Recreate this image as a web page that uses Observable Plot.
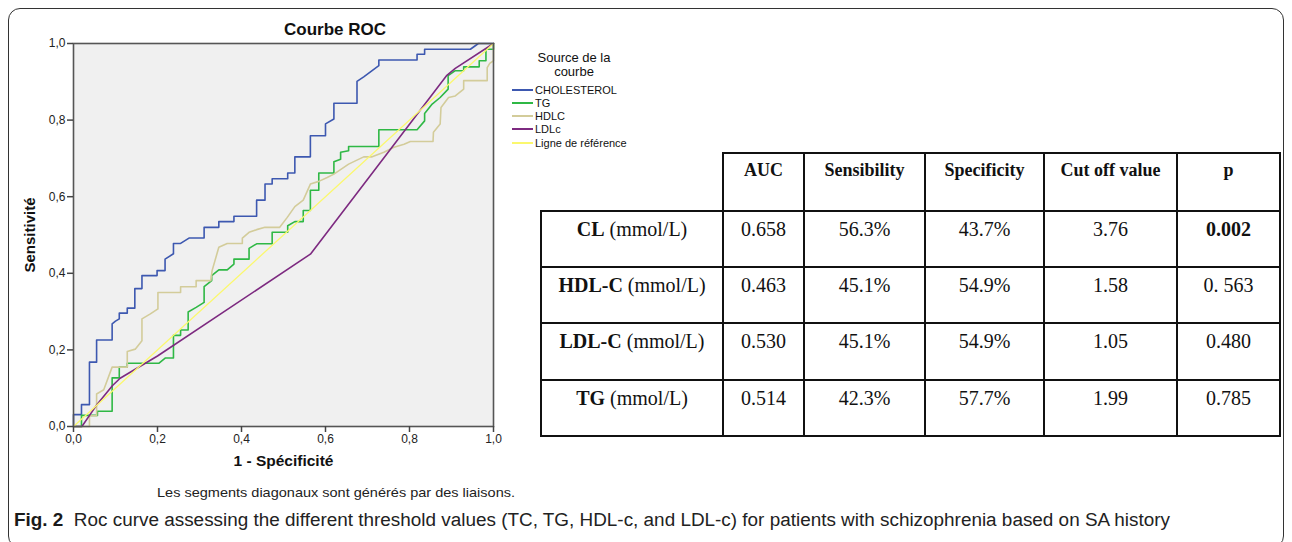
<!DOCTYPE html>
<html>
<head>
<meta charset="utf-8">
<script src="https://cdn.jsdelivr.net/npm/d3@7"></script>
<script src="https://cdn.jsdelivr.net/npm/@observablehq/plot@0.6"></script>
<style>
  html, body { margin: 0; padding: 0; background: #fff; }
  #page { position: relative; width: 1292px; height: 542px; overflow: hidden; font-family: "Liberation Sans", Arial, sans-serif; }
  #box { position: absolute; left: 8px; top: 8px; width: 1276px; height: 540px; border: 1px solid #333; border-radius: 12px; box-sizing: border-box; }
  #chart { position: absolute; left: 0; top: 0; }
  #title { position: absolute; left: 235px; width: 200px; top: 20px; text-align: center; font-weight: bold; font-size: 17px; color: #111; }
  #legend { position: absolute; left: 510px; top: 48px; color: #111; }
  #legend .head { position: absolute; left: 4px; width: 120px; text-align: center; font-size: 13px; line-height: 13px; height: 13px; }
  #legend .item { position: absolute; left: 2px; height: 13px; font-size: 11px; line-height: 13px; white-space: nowrap; }
  #legend .item span.sw { display: inline-block; width: 21px; height: 0; border-top: 2px solid; vertical-align: middle; margin-right: 2px; position: relative; top: -1px; }
  #foot { position: absolute; left: 157px; top: 485px; font-size: 13px; color: #222; white-space: nowrap; transform-origin: left top; }
  #caption { position: absolute; left: 14px; top: 510px; font-size: 18px; color: #222; white-space: nowrap; transform-origin: left top; }
  #caption b { color: #1a1a1a; }
  table { position: absolute; left: 540px; top: 152px; border-collapse: collapse; font-family: "Liberation Serif", "Times New Roman", serif; color: #111; }
  td, th { border: 2px solid #111; text-align: center; vertical-align: top; padding: 6px 2px 0 2px; box-sizing: border-box; }
  th { font-size: 18px; font-weight: bold; }
  td { font-size: 20px; }
  th.blank { border-top: none; border-left: none; }
</style>
</head>
<body>
<div id="page">
  <div id="box"></div>
  <div id="chart"></div>
  <div id="title">Courbe ROC</div>
  <div id="legend"></div>
  <div id="foot">Les segments diagonaux sont générés par des liaisons.</div>
  <div id="caption"><b>Fig. 2</b>&nbsp; Roc curve assessing the different threshold values (TC, TG, HDL-c, and LDL-c) for patients with schizophrenia based on SA history</div>
</div>
<script>
// ---------- ROC curve data (1 - specificity, sensitivity) ----------
const cholesterol = [[0,0],[0,0.031],[0.019,0.031],[0.019,0.057],[0.038,0.057],[0.038,0.168],[0.055,0.168],[0.055,0.226],[0.092,0.226],[0.092,0.268],[0.100,0.275],[0.109,0.281],[0.109,0.296],[0.128,0.296],[0.128,0.309],[0.146,0.309],[0.146,0.36],[0.163,0.36],[0.163,0.394],[0.199,0.394],[0.199,0.407],[0.218,0.407],[0.218,0.437],[0.238,0.451],[0.238,0.478],[0.255,0.478],[0.275,0.492],[0.311,0.492],[0.311,0.520],[0.346,0.520],[0.346,0.535],[0.382,0.535],[0.382,0.549],[0.436,0.549],[0.436,0.591],[0.456,0.591],[0.456,0.633],[0.473,0.633],[0.473,0.647],[0.510,0.647],[0.510,0.662],[0.527,0.662],[0.527,0.704],[0.564,0.704],[0.564,0.759],[0.600,0.759],[0.600,0.790],[0.620,0.803],[0.620,0.844],[0.675,0.844],[0.675,0.901],[0.691,0.913],[0.711,0.929],[0.727,0.942],[0.727,0.957],[0.818,0.957],[0.818,0.972],[0.836,0.972],[0.836,0.985],[0.945,0.985],[0.964,1],[1,1]];
const tg = [[0,0],[0.019,0],[0.019,0.029],[0.057,0.029],[0.057,0.040],[0.065,0.040],[0.092,0.040],[0.092,0.127],[0.109,0.127],[0.109,0.155],[0.128,0.155],[0.128,0.165],[0.203,0.165],[0.219,0.179],[0.238,0.179],[0.238,0.238],[0.255,0.238],[0.255,0.252],[0.273,0.252],[0.273,0.299],[0.292,0.311],[0.311,0.324],[0.311,0.365],[0.329,0.381],[0.329,0.394],[0.346,0.409],[0.366,0.409],[0.382,0.424],[0.382,0.437],[0.418,0.437],[0.418,0.465],[0.436,0.477],[0.473,0.477],[0.473,0.507],[0.510,0.507],[0.510,0.524],[0.527,0.535],[0.547,0.535],[0.547,0.564],[0.564,0.564],[0.564,0.617],[0.584,0.617],[0.584,0.662],[0.620,0.662],[0.620,0.691],[0.636,0.698],[0.636,0.716],[0.655,0.72],[0.655,0.731],[0.727,0.731],[0.727,0.775],[0.818,0.775],[0.836,0.798],[0.836,0.817],[0.854,0.842],[0.873,0.859],[0.892,0.881],[0.892,0.916],[0.909,0.929],[0.929,0.929],[0.929,0.939],[0.966,0.939],[0.966,0.955],[0.982,0.955],[0.982,0.985],[1,0.985],[1,1]];
const hdlc = [[0,0],[0.038,0],[0.038,0.028],[0.055,0.028],[0.055,0.085],[0.072,0.096],[0.092,0.155],[0.128,0.155],[0.128,0.196],[0.147,0.202],[0.163,0.224],[0.163,0.281],[0.183,0.294],[0.201,0.307],[0.201,0.350],[0.255,0.350],[0.255,0.365],[0.292,0.365],[0.292,0.381],[0.327,0.381],[0.330,0.407],[0.346,0.468],[0.366,0.478],[0.402,0.478],[0.402,0.492],[0.418,0.507],[0.436,0.514],[0.456,0.520],[0.491,0.520],[0.509,0.546],[0.527,0.574],[0.547,0.591],[0.564,0.633],[0.584,0.640],[0.604,0.650],[0.620,0.659],[0.655,0.685],[0.691,0.704],[0.711,0.704],[0.739,0.716],[0.763,0.729],[0.787,0.737],[0.802,0.744],[0.856,0.744],[0.857,0.768],[0.873,0.790],[0.875,0.833],[0.893,0.859],[0.909,0.863],[0.929,0.881],[0.929,0.903],[0.985,0.903],[0.985,0.937],[0.991,0.948],[1,0.955],[1,1]];
const ldlc = [[0,0],[0.02,0],[0.057,0.059],[0.093,0.107],[0.111,0.126],[0.2,0.184],[0.564,0.45],[0.889,0.917],[0.909,0.935],[1,1]];
const reference = [[0,0],[1,1]];

const seriesNames = ["CHOLESTEROL", "TG", "HDLC", "LDLc", "Ligne de référence"];
const seriesData = [cholesterol, tg, hdlc, ldlc, reference];
const seriesColors = ["#3d58b0", "#2fb845", "#d3cc9a", "#7d2a80", "#fbf86e"];
const legendTitle = ["Source de la", "courbe"];

const axisTicks = [0, 0.2, 0.4, 0.6, 0.8, 1.0];
const xLabel = "1 - Spécificité";
const yLabel = "Sensitivité";

// ---------- table data ----------
const tableHeader = ["AUC", "Sensibility", "Specificity", "Cut off value", "p"];
const rowNames = ["CL", "HDL-C", "LDL-C", "TG"];
const rowUnit = " (mmol/L)";
const aucValues = ["0.658", "0.463", "0.530", "0.514"];
const sensValues = ["56.3%", "45.1%", "45.1%", "42.3%"];
const specValues = ["43.7%", "54.9%", "54.9%", "57.7%"];
const cutoffValues = ["3.76", "1.58", "1.05", "1.99"];
const pValues = ["0.002", "0. 563", "0.480", "0.785"];
const pBold = [true, false, false, false];

// ---------- chart ----------
const fmt = d => d.toFixed(1).replace(".", ",");
const lineMarks = seriesData.map((data, i) =>
  Plot.line(data, {x: d => d[0], y: d => d[1], stroke: seriesColors[i], strokeWidth: i === 4 ? 1.3 : 1.6})
);

const chart = Plot.plot({
  width: 520,
  height: 480,
  marginLeft: 73,
  marginRight: 27,
  marginTop: 43,
  marginBottom: 54,
  x: {domain: [0, 1]},
  y: {domain: [0, 1]},
  style: {background: "transparent", fontFamily: "'Liberation Sans', Arial, sans-serif", color: "#222", overflow: "visible"},
  marks: [
    Plot.frame({fill: "#f0f0f0", stroke: null}),
    ...lineMarks,
    Plot.frame({stroke: "#555", strokeWidth: 1.6}),
    Plot.axisX({ticks: axisTicks, tickFormat: fmt, tickSize: 6, tickPadding: 2, fontSize: 12, strokeWidth: 1.5, stroke: "#444", label: null}),
    Plot.axisY({ticks: axisTicks, tickFormat: fmt, tickSize: 6, tickPadding: 2, fontSize: 12, strokeWidth: 1.5, stroke: "#444", label: null}),
    Plot.text([xLabel], {frameAnchor: "bottom", dy: 39, text: d => d, fontWeight: "bold", fontSize: 15.5, fill: "#111"}),
    Plot.text([yLabel], {frameAnchor: "left", textAnchor: "middle", dx: -43, rotate: -90, text: d => d, fontWeight: "bold", fontSize: 15, fill: "#111"})
  ]
});
document.getElementById("chart").appendChild(chart);

// ---------- legend ----------
const legend = document.getElementById("legend");
legendTitle.forEach((t, i) => {
  const h = document.createElement("div");
  h.className = "head";
  h.style.top = (3 + i * 13.5) + "px";
  h.textContent = t;
  legend.appendChild(h);
});
seriesNames.forEach((name, i) => {
  const it = document.createElement("div");
  it.className = "item";
  it.style.top = (35.5 + i * 13.3) + "px";
  it.innerHTML = `<span class="sw" style="border-color:${seriesColors[i]}"></span>${name}`;
  legend.appendChild(it);
});

// ---------- table ----------
const colWidths = [182, 81, 121, 119, 133, 103];
const rowHeights = [58, 56, 56, 57, 56];
const table = document.createElement("table");
let html = "<colgroup>" + colWidths.map(w => `<col style="width:${w}px">`).join("") + "</colgroup>";
html += `<tr style="height:${rowHeights[0]}px"><th class="blank"></th>` + tableHeader.map(h => `<th>${h}</th>`).join("") + "</tr>";
rowNames.forEach((r, i) => {
  html += `<tr style="height:${rowHeights[i + 1]}px"><td><b>${r}</b>${rowUnit}</td><td>${aucValues[i]}</td><td>${sensValues[i]}</td><td>${specValues[i]}</td><td>${cutoffValues[i]}</td><td>${pBold[i] ? "<b>" + pValues[i] + "</b>" : pValues[i]}</td></tr>`;
});
table.innerHTML = html;
table.style.width = colWidths.reduce((a, b) => a + b, 0) + "px";
table.style.tableLayout = "fixed";
document.getElementById("page").appendChild(table);

// fit text lines to the original line lengths
function fitWidth(id, target) {
  const el = document.getElementById(id);
  const w = el.getBoundingClientRect().width;
  el.style.transform = `scaleX(${target / w})`;
}
fitWidth("caption", 1156);
fitWidth("foot", 358);
</script>
</body>
</html>
